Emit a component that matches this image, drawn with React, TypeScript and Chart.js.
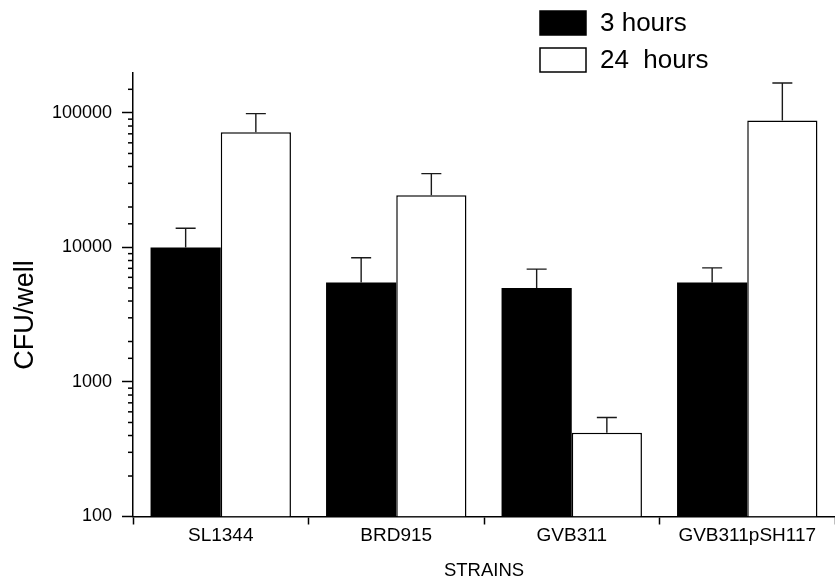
import React, { useEffect, useRef } from 'react';
import { Chart, registerables } from 'chart.js';

Chart.register(...registerables);

// ---- data ----
const categories = ['SL1344', 'BRD915', 'GVB311', 'GVB311pSH117'];
const seriesLabels = ['3 hours', '24  hours'];
const hours3 = [10000, 5500, 5000, 5500];
const hours3Upper = [13900, 8400, 6900, 7050];
const hours24 = [72000, 24500, 420, 88000];
const hours24Upper = [99000, 35400, 545, 167000];
const majorTicks = [100, 1000, 10000, 100000];
const yMin = 100;
const yMax = 200000;
const xTitle = 'STRAINS';
const yTitle = 'CFU/well';

const FONT = "'Liberation Sans', Arial, Helvetica, sans-serif";

const isMajor = (v: number) => majorTicks.some((m) => Math.abs(m - v) < 1e-6);

const errorBarPlugin = {
  id: 'errorBars',
  afterDatasetsDraw(chart: any) {
    const ctx = chart.ctx;
    const yScale = chart.scales.y;
    chart.data.datasets.forEach((ds: any, i: number) => {
      const meta = chart.getDatasetMeta(i);
      const uppers: number[] = ds.upper || [];
      meta.data.forEach((el: any, j: number) => {
        const up = uppers[j];
        if (up == null) return;
        const yTop = yScale.getPixelForValue(up);
        ctx.save();
        ctx.strokeStyle = '#1a1a1a';
        ctx.lineWidth = 1.4;
        ctx.beginPath();
        ctx.moveTo(el.x, el.y);
        ctx.lineTo(el.x, yTop);
        ctx.moveTo(el.x - 10, yTop);
        ctx.lineTo(el.x + 10, yTop);
        ctx.stroke();
        ctx.restore();
      });
    });
  },
};

const minorTickPlugin = {
  id: 'minorTicks',
  afterDraw(chart: any) {
    const s = chart.scales.y;
    const ctx = chart.ctx;
    ctx.save();
    ctx.strokeStyle = '#000';
    ctx.lineWidth = 1.5;
    s.ticks.forEach((t: any) => {
      if (isMajor(t.value) || t.value >= yMax) return;
      const y = s.getPixelForValue(t.value);
      ctx.beginPath();
      ctx.moveTo(chart.chartArea.left - 5, y);
      ctx.lineTo(chart.chartArea.left, y);
      ctx.stroke();
    });
    ctx.restore();
  },
};

const yTitlePlugin = {
  id: 'yTitle',
  afterDraw(chart: any) {
    const ctx = chart.ctx;
    ctx.save();
    ctx.translate(26, 315);
    ctx.rotate(-Math.PI / 2);
    ctx.fillStyle = '#000';
    ctx.font = `27px ${FONT}`;
    ctx.textAlign = 'center';
    ctx.textBaseline = 'middle';
    ctx.fillText(yTitle, 0, 0);
    ctx.restore();
  },
};

const legendPlugin = {
  id: 'customLegend',
  afterDraw(chart: any) {
    const ctx = chart.ctx;
    const boxX = 540;
    const boxW = 46;
    const boxH = 24;
    const rows = [11, 48];
    chart.data.datasets.forEach((ds: any, i: number) => {
      const y = rows[i];
      ctx.save();
      ctx.fillStyle = ds.backgroundColor;
      ctx.fillRect(boxX, y, boxW, boxH);
      ctx.strokeStyle = '#000';
      ctx.lineWidth = 1.5;
      ctx.strokeRect(boxX, y, boxW, boxH);
      ctx.fillStyle = '#000';
      ctx.font = `26px ${FONT}`;
      ctx.textAlign = 'left';
      ctx.textBaseline = 'middle';
      ctx.fillText(ds.label, 600, y + boxH / 2 + 1);
      ctx.restore();
    });
  },
};

export default function App() {
  const canvasRef = useRef<HTMLCanvasElement | null>(null);

  useEffect(() => {
    if (!canvasRef.current) return;
    Chart.defaults.font.family = FONT;
    Chart.defaults.color = '#000';
    const chart = new Chart(canvasRef.current, {
      type: 'bar',
      data: {
        labels: categories,
        datasets: [
          {
            label: seriesLabels[0],
            data: hours3,
            upper: hours3Upper,
            backgroundColor: '#000000',
            borderColor: '#000000',
            borderWidth: 0,
            categoryPercentage: 0.8,
            barPercentage: 1.0,
          } as any,
          {
            label: seriesLabels[1],
            data: hours24,
            upper: hours24Upper,
            backgroundColor: '#ffffff',
            borderColor: '#000000',
            borderWidth: 1.5,
            categoryPercentage: 0.8,
            barPercentage: 1.0,
          } as any,
        ],
      },
      options: {
        animation: false,
        responsive: false,
        devicePixelRatio: 1,
        layout: { padding: { top: 72.5, right: -7, left: 0, bottom: 0 } },
        plugins: {
          legend: { display: false },
          tooltip: { enabled: false },
        },
        scales: {
          x: {
            type: 'category',
            offset: true,
            grid: {
              offset: true,
              drawOnChartArea: false,
              drawTicks: true,
              tickLength: 8,
              tickColor: '#000',
              tickWidth: 1.5,
            },
            border: { display: true, color: '#000', width: 1.5 },
            ticks: {
              font: { size: 19, family: FONT },
              color: '#000',
              padding: 0,
              maxRotation: 0,
              autoSkip: false,
            },
            title: {
              display: true,
              text: xTitle,
              font: { size: 18.5, family: FONT },
              color: '#000',
              padding: { top: 0, bottom: -2 },
            },
            afterFit: (scale: any) => {
              scale.height = 63.5;
            },
          },
          y: {
            type: 'logarithmic',
            min: yMin,
            max: yMax,
            grid: {
              drawOnChartArea: false,
              drawTicks: true,
              tickLength: 11,
              tickWidth: 1.5,
              tickColor: (ctx: any) => (ctx.tick && isMajor(ctx.tick.value) ? '#000' : 'rgba(0,0,0,0)'),
            },
            border: { display: true, color: '#000', width: 1.5 },
            ticks: {
              autoSkip: false,
              padding: 10,
              font: { size: 18, family: FONT },
              color: '#000',
              callback: (value: any) => {
                const v = Number(value);
                if (isMajor(v)) return String(Math.round(v));
                if (v >= yMax) return null;
                return '';
              },
            },
            afterFit: (scale: any) => {
              scale.width = 133;
            },
          },
        },
      } as any,
      plugins: [errorBarPlugin, minorTickPlugin, yTitlePlugin, legendPlugin],
    });
    return () => chart.destroy();
  }, []);

  return (
    <div style={{ position: 'absolute', left: 0, top: 0, width: 835, height: 580, background: '#fff' }}>
      <canvas ref={canvasRef} width={835} height={580} style={{ display: 'block' }} />
    </div>
  );
}
